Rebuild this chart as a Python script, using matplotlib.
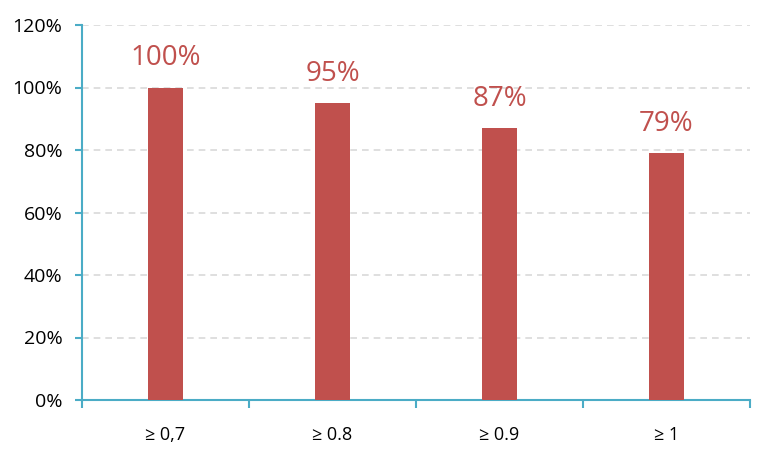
import numpy as np
import matplotlib.pyplot as plt
from matplotlib.ticker import FixedLocator, PercentFormatter

# data
categories = ['≥ 0,7', '≥ 0.8', '≥ 0.9', '≥ 1']
values = [100, 95, 87, 79]

bar_color = '#C0504D'
axis_color = '#4BACC6'

plt.rcParams['font.family'] = ['Open Sans', 'DejaVu Sans']

fig = plt.figure(figsize=(7.73, 4.55), dpi=100)
ax = fig.add_axes([82 / 773, 1 - 400 / 455, (750 - 82) / 773, (400 - 25) / 455])

x = np.arange(len(categories))
bars = ax.bar(x, values, width=0.21, color=bar_color, zorder=3)

for xi, v in zip(x, values):
    ax.annotate(f'{v}%', (xi, v), xytext=(0, 11), textcoords='offset points',
                ha='center', va='bottom', fontsize=20, color=bar_color)

ax.set_xlim(-0.5, len(categories) - 0.5)
ax.set_ylim(0, 120)
ax.set_yticks(np.arange(0, 121, 20))
ax.yaxis.set_major_formatter(PercentFormatter(decimals=0))
ax.yaxis.grid(True, color='#D9D9D9', linestyle=(0, (4, 3)), linewidth=1.2, zorder=0)

ax.set_xticks(x)
ax.set_xticklabels(categories)
ax.xaxis.set_minor_locator(FixedLocator(np.arange(len(categories) + 1) - 0.5))
ax.tick_params(axis='x', which='major', length=0, pad=19, labelsize=13)
ax.tick_params(axis='x', which='minor', length=6, color=axis_color, width=1.5)
ax.tick_params(axis='y', length=5, color=axis_color, width=1.5, labelsize=14, pad=9)

for side in ['top', 'right']:
    ax.spines[side].set_visible(False)
for side in ['left', 'bottom']:
    ax.spines[side].set_color(axis_color)
    ax.spines[side].set_linewidth(1.5)

fig.savefig('out.png', dpi=100)
